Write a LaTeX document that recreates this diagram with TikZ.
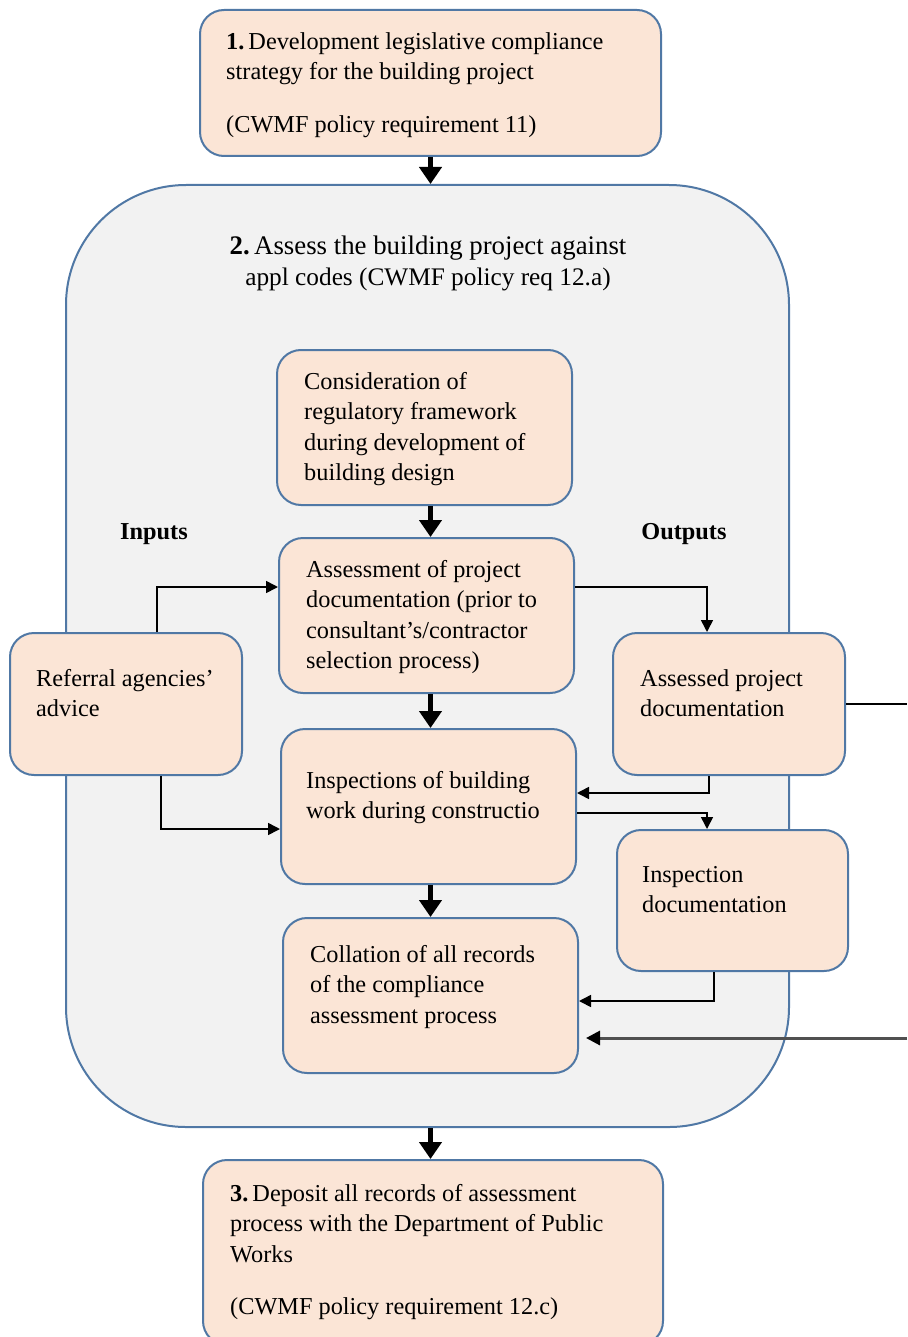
\documentclass[tikz,border=0pt]{standalone}
\usepackage{fontspec}
\setmainfont{Liberation Serif}
\usetikzlibrary{arrows.meta,calc}
\definecolor{peach}{RGB}{251,229,214}
\definecolor{edgeblue}{RGB}{80,120,165}
\definecolor{panel}{RGB}{242,242,242}
\definecolor{feedgrey}{RGB}{80,80,80}
\tikzset{
  stepbox/.style={draw=edgeblue, line width=2pt, fill=peach, rounded corners=24pt,
    inner sep=0pt, minimum width=#1},
  panelbox/.style={draw=edgeblue, line width=2pt, fill=panel, rounded corners=120pt,
    inner sep=0pt},
  txt/.style={font=\fontsize{24.3}{30.5}\selectfont, align=left, inner sep=0pt,
    anchor=north west, text=black},
  heading/.style={font=\fontsize{24.3}{30.5}\selectfont\bfseries, inner sep=0pt},
  bigarrow/.style={line width=5.5pt, -{Triangle[length=17pt,width=22pt]}},
  thinarrow/.style={line width=1.6pt, -{Triangle[length=12pt,width=12pt]}},
  thinline/.style={line width=1.6pt},
  feedarrow/.style={line width=3pt, draw=feedgrey, -{Triangle[length=14pt,width=14pt,color=black]}},
}
\begin{document}
\begin{tikzpicture}[x=1pt,y=-1pt]
\useasboundingbox (0,0) rectangle (907,1337);
\clip (0,0) rectangle (907,1337);

% outer panel for step 2
\node[panelbox, minimum width=723pt, minimum height=942pt] (cont) at (427.5,656) {};

% step boxes
\node[stepbox=461pt, minimum height=146pt] (box1) at (430.5,83) {};
\node[stepbox=295pt, minimum height=155pt] (A) at (424.5,427.5) {};
\node[stepbox=295pt, minimum height=155pt] (B) at (426.5,615.5) {};
\node[stepbox=295pt, minimum height=155pt] (C) at (428.5,806.5) {};
\node[stepbox=295pt, minimum height=155pt] (D) at (430.5,995.5) {};
\node[stepbox=232pt, minimum height=142pt] (ref) at (126,704) {};
\node[stepbox=232pt, minimum height=142pt] (apd) at (729,704) {};
\node[stepbox=231pt, minimum height=141pt] (insd) at (732.5,900.5) {};
\node[stepbox=460pt, minimum height=185pt] (box3) at (433,1252.5) {};

% texts
\node[txt] (t1) at (226,32) {\textbf{1.}\,Development legislative compliance\\
  strategy for the building project\\[22pt]
  (CWMF policy requirement 11)};
\node[font=\fontsize{26.8}{30.5}\selectfont, inner sep=0pt, anchor=north] (t2a) at (428,236)
  {\textbf{2.}\,Assess the building project against};
\node[font=\fontsize{25.3}{30.5}\selectfont, inner sep=0pt, anchor=base] (t2b) at (428,286)
  {appl codes (CWMF policy req 12.a)};
\node[txt] (tA) at (304,372) {Consideration of\\ regulatory framework\\ during development of\\ building design};
\node[txt] (tB) at (306,560) {Assessment of project\\ documentation (prior to\\ consultant's/contractor\\ selection process)};
\node[txt] (tC) at (306,771) {Inspections of building\\ work during constructio};
\node[txt] (tD) at (310,945) {Collation of all records\\ of the compliance\\ assessment process};
\node[txt] (tref) at (36,669) {Referral agencies'\\ advice};
\node[txt] (tapd) at (640,669) {Assessed project\\ documentation};
\node[txt] (tinsd) at (642,866) {Inspection\\ documentation};
\node[txt] (t3) at (230,1184) {\textbf{3.}\,Deposit all records of assessment\\
  process with the Department of Public\\ Works\\[22pt]
  (CWMF policy requirement 12.c)};
\node[heading] (inputs) at (154,534) {Inputs};
\node[heading] (outputs) at (684,534) {Outputs};

% main flow, all on the axis of step 1
\draw[bigarrow] (box1.south) -- (box1.south |- cont.north);
\draw[bigarrow] (A.south -| box1.south) -- (B.north -| box1.south);
\draw[bigarrow] (B.south -| box1.south) -- (C.north -| box1.south);
\draw[bigarrow] (C.south -| box1.south) -- (D.north -| box1.south);
\draw[bigarrow] (cont.south -| box1.south) -- (box3.north -| box1.south);

% inputs
\draw[thinarrow] ([xshift=31pt]ref.north) |- ([yshift=28.5pt]B.west);
\draw[thinarrow] ([xshift=35pt]ref.south) |- ([yshift=-22.5pt]C.west);

% outputs and feedback
\draw[thinarrow] ([yshift=28.5pt]B.east) -| ([xshift=-22pt]apd.north);
\draw[thinarrow] ([xshift=-20pt]apd.south) |- ([yshift=13.5pt]C.east);
\draw[thinarrow] ([yshift=-6.5pt]C.east) -| ([xshift=-25.5pt]insd.north);
\draw[thinarrow] ([xshift=-18.5pt]insd.south) |- ([yshift=-5.5pt]D.east);

% link leaving to the right and returning to the collation step
\coordinate (outA) at (907,704);
\coordinate (inD) at (907,1038);
\draw[thinline] (apd.east) -- (apd.east -| outA);
\draw[feedarrow] (inD) -- ($(D.east |- inD)+(7,0)$);
\end{tikzpicture}
\end{document}
